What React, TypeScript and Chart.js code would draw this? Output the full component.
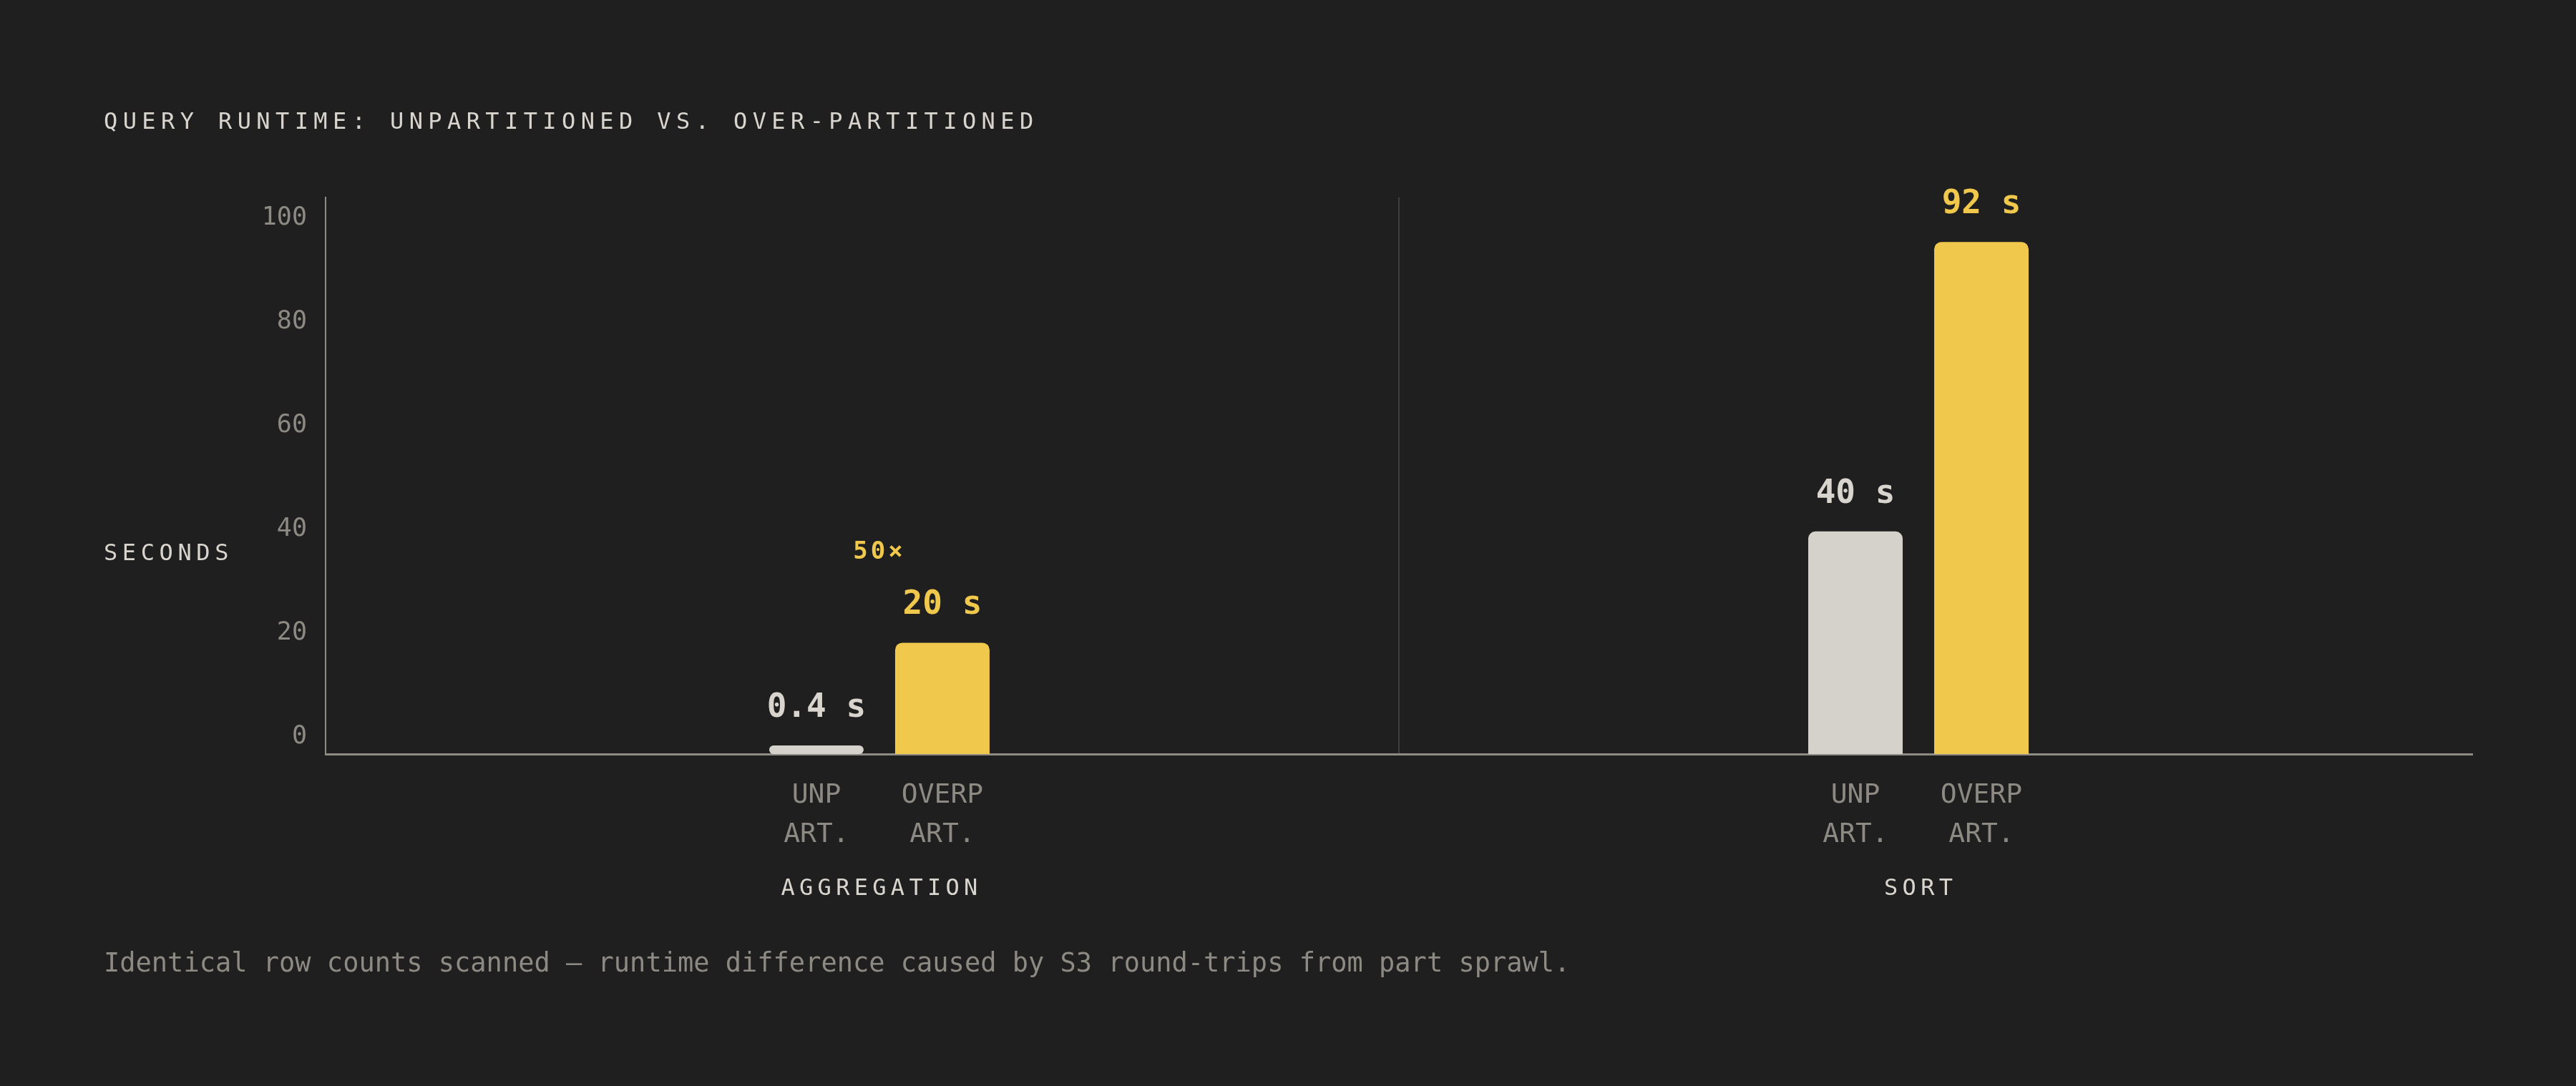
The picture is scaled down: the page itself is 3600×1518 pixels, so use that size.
import { useEffect, useRef } from "react"
import { Chart, registerables } from "chart.js"

Chart.register(...registerables)

// Data
const categories = ["AGGREGATION", "SORT"]
const seriesNames = ["Unpartitioned", "Over-partitioned"]
const unpartSeconds = [0.4, 40]
const overpartSeconds = [20, 92]
const barLabels = [
  ["UNP", "ART."],
  ["OVERP", "ART."],
]
const ratioNotes = ["50×", ""]
const yTicks = [0, 20, 40, 60, 80, 100]

const BG = "#1f1f1f"
const YELLOW = "#f0c94c"
const LIGHT_BAR = "#d5d1cb"
const TEXT = "#d9d5ce"
const MUTED = "#8d8983"
const AXIS = "#8f8b85"
const DIVIDER = "#3e3e3e"
const MONO = "'DejaVu Sans Mono', 'Liberation Mono', monospace"

// extra room either side of the two categories (fraction of a category)
const CAT_PAD = 0.033

const notesPlugin = {
  id: "barNotes",
  afterDatasetsDraw(chart: any) {
    const { ctx, chartArea } = chart
    const xScale = chart.scales.x
    ctx.save()
    ctx.textAlign = "center"
    ctx.textBaseline = "middle"

    chart.data.datasets.forEach((ds: any, di: number) => {
      const meta = chart.getDatasetMeta(di)
      meta.data.forEach((bar: any, i: number) => {
        // value above bar
        ctx.font = `bold 46px ${MONO}`
        ctx.fillStyle = di === 0 ? TEXT : YELLOW
        ctx.fillText(`${ds.data[i]} s`, bar.x, bar.y - 52)
        // series label under bar
        ctx.font = `38px ${MONO}`
        ctx.fillStyle = MUTED
        barLabels[di].forEach((line, li) => {
          ctx.fillText(line, bar.x, chartArea.bottom + 58 + li * 55)
        })
      })
    })

    categories.forEach((name, i) => {
      const x = xScale.getPixelForValue(i)
      ctx.font = `32px ${MONO}`
      ctx.letterSpacing = "6.3px"
      ctx.fillStyle = TEXT
      ctx.fillText(name, x + 3.1, chartArea.bottom + 189)

      if (ratioNotes[i]) {
        const tops = chart.data.datasets.map((_: any, di: number) => chart.getDatasetMeta(di).data[i].y)
        ctx.font = `bold 34px ${MONO}`
        ctx.letterSpacing = "4px"
        ctx.fillStyle = YELLOW
        ctx.fillText(ratioNotes[i], x, Math.min(...tops) - 126)
      }
    })
    ctx.restore()
  },
}

function RuntimeChart() {
  const canvasRef = useRef<HTMLCanvasElement>(null)
  const chartInstance = useRef<Chart | null>(null)

  useEffect(() => {
    if (!canvasRef.current) return
    if (chartInstance.current) chartInstance.current.destroy()

    const radius = (c: any) =>
      c.raw < 1 ? 6 : { topLeft: 10, topRight: 10, bottomLeft: 0, bottomRight: 0 }

    chartInstance.current = new Chart(canvasRef.current, {
      type: "bar",
      data: {
        labels: categories,
        datasets: [
          {
            label: seriesNames[0],
            data: unpartSeconds,
            backgroundColor: LIGHT_BAR,
          },
          {
            label: seriesNames[1],
            data: overpartSeconds,
            backgroundColor: YELLOW,
          },
        ].map((ds) => ({
          ...ds,
          borderWidth: 0,
          borderSkipped: false,
          borderRadius: radius,
          minBarLength: 12,
          categoryPercentage: 0.2424,
          barPercentage: 0.75,
        })),
      },
      options: {
        animation: false,
        responsive: true,
        maintainAspectRatio: false,
        layout: { padding: { top: 276, right: 145, left: 0, bottom: 0 } },
        plugins: {
          legend: { display: false },
          tooltip: { enabled: false },
        },
        scales: {
          x: {
            offset: true,
            grid: {
              offset: true,
              drawTicks: false,
              lineWidth: 2,
              color: (c: any) => (c.index === 1 ? DIVIDER : "transparent"),
            },
            border: { color: AXIS, width: 3 },
            ticks: { display: false },
            afterBuildTicks: (s: any) => {
              s._startValue -= CAT_PAD
              s._valueRange += 2 * CAT_PAD
            },
            afterFit: (s: any) => {
              s.height = 464
            },
          },
          y: {
            display: false,
            min: 0,
            max: 100,
          },
          // label-only axis: the tick labels sit slightly inside the axis ends
          yt: {
            axis: "y",
            position: "left",
            min: -3.3,
            max: 104.0,
            afterBuildTicks: (s: any) => {
              s.ticks = yTicks.map((value) => ({ value }))
            },
            grid: { display: false, drawTicks: false },
            border: { color: AXIS, width: 2 },
            ticks: {
              color: MUTED,
              padding: 26,
              font: { family: MONO, size: 35 },
              callback: (v: any) => String(v),
            },
            afterFit: (s: any) => {
              s.width = 455
            },
          },
        },
      },
      plugins: [notesPlugin],
    })

    return () => {
      if (chartInstance.current) {
        chartInstance.current.destroy()
        chartInstance.current = null
      }
    }
  }, [])

  return <canvas ref={canvasRef} />
}

const textBase: React.CSSProperties = {
  position: "absolute",
  left: 145,
  fontFamily: MONO,
  lineHeight: 1,
  whiteSpace: "nowrap",
  margin: 0,
}

export default function App() {
  return (
    <div
      style={{
        position: "fixed",
        left: 0,
        top: 0,
        width: 3600,
        height: 1518,
        background: BG,
        overflow: "hidden",
      }}
    >
      <div style={{ position: "absolute", inset: 0 }}>
        <RuntimeChart />
      </div>
      <div style={{ ...textBase, top: 152.6, fontSize: 32, letterSpacing: "7.4px", color: TEXT }}>
        QUERY RUNTIME: UNPARTITIONED VS. OVER-PARTITIONED
      </div>
      <div style={{ ...textBase, top: 755.6, fontSize: 32, letterSpacing: "6.6px", color: TEXT }}>
        SECONDS
      </div>
      <div style={{ ...textBase, top: 1327, fontSize: 37, color: MUTED }}>
        Identical row counts scanned — runtime difference caused by S3 round-trips from part sprawl.
      </div>
    </div>
  )
}
